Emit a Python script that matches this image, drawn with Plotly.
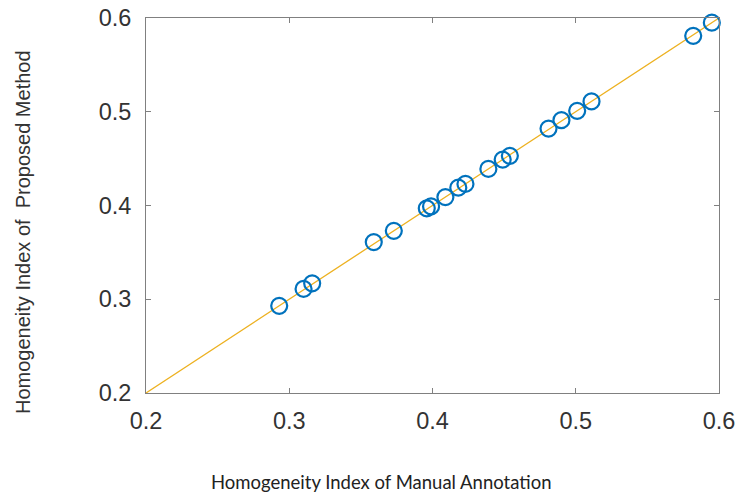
import plotly.graph_objects as go

manual = [0.293, 0.310, 0.316, 0.359, 0.373, 0.396, 0.399, 0.409, 0.418, 0.423,
          0.439, 0.449, 0.454, 0.481, 0.490, 0.501, 0.511, 0.582, 0.595]
proposed = [0.293, 0.311, 0.317, 0.361, 0.373, 0.397, 0.399, 0.409, 0.419, 0.423,
            0.439, 0.449, 0.453, 0.482, 0.491, 0.501, 0.511, 0.581, 0.595]
ref_line = [0.2, 0.6]
ticks = [0.2, 0.3, 0.4, 0.5, 0.6]
tick_text = ["0.2", "0.3", "0.4", "0.5", "0.6"]

fig = go.Figure()
fig.add_trace(go.Scatter(x=ref_line, y=ref_line, mode="lines",
                         line=dict(color="#EDB120", width=1.3), showlegend=False,
                         hoverinfo="skip", cliponaxis=False))
fig.add_trace(go.Scatter(x=manual, y=proposed, mode="markers",
                         marker=dict(symbol="circle-open", size=16, color="#0072BD",
                                     line=dict(width=2.2, color="#0072BD")),
                         showlegend=False, cliponaxis=False))

axis_common = dict(range=[0.2, 0.6], tickvals=ticks, ticktext=tick_text, automargin=False,
                   ticklabeloverflow="allow",
                   showgrid=False, zeroline=False, showline=True, linecolor="#808080",
                   linewidth=1, mirror="ticks", ticks="inside", ticklen=5,
                   tickcolor="#808080", tickfont=dict(family="Liberation Sans, Arial", size=23.5,
                                                       color="#333333"))
fig.update_xaxes(**axis_common, ticklabelstandoff=7)
fig.update_yaxes(**axis_common, ticklabelstandoff=9)

fig.add_annotation(text="Homogeneity Index of Manual Annotation", xref="paper", yref="paper",
                   x=(381 - 146) / (719 - 146), y=-(482 - 393) / (393 - 18), showarrow=False,
                   font=dict(family="Lato, Open Sans", size=18.5, color="#222222"),
                   xanchor="center", yanchor="middle")
fig.add_annotation(text="Homogeneity Index of  Proposed Method", xref="paper", yref="paper",
                   x=-(146 - 23) / (719 - 146), y=(393 - 232) / (393 - 18), showarrow=False,
                   textangle=-90,
                   font=dict(family="Liberation Sans, Arial", size=20, color="#333333"),
                   xanchor="center", yanchor="middle")

fig.update_layout(width=738, height=495, margin=dict(l=146, r=19, t=18, b=102),
                  paper_bgcolor="white", plot_bgcolor="white")
fig.write_html("out.html", config={"displayModeBar": False},
               post_script="document.body.style.margin='0';document.body.style.overflow='hidden';")
